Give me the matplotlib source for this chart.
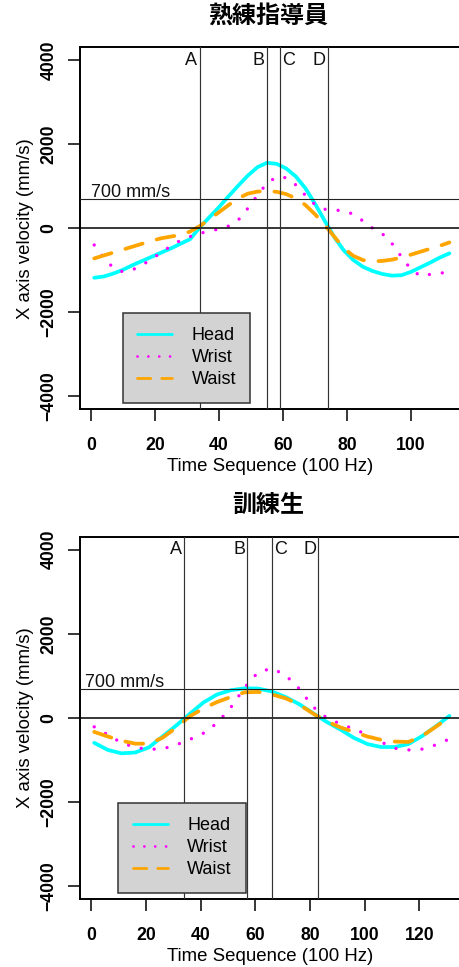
import matplotlib.pyplot as plt

plt.rcParams['font.family'] = ['Liberation Sans', 'DejaVu Sans']

# 熟練指導員 (expert instructor)
x_expert = list(range(1, 113, 3))
head_expert = [-1180, -1150, -1080, -990, -880, -780, -680, -580, -480, -370,
               -260, 20, 260, 500, 760, 1010, 1250, 1450, 1555, 1530,
               1420, 1230, 950, 580, 180, -210, -530, -760, -920, -1020,
               -1090, -1130, -1120, -1040, -930, -820, -700, -600]
wrist_expert = [-400, -700, -950, -1040, -990, -880, -730, -580, -420, -290,
                -200, -125, -70, -20, 50, 190, 470, 780, 1070, 1220,
                1200, 1030, 780, 560, 450, 430, 415, 330, 170, 0,
                -130, -360, -680, -980, -1140, -1100, -1070, -1050]
waist_expert = [-720, -650, -580, -510, -440, -370, -300, -240, -200, -160,
                -80, 50, 210, 380, 550, 710, 820, 870, 880, 865,
                810, 710, 550, 330, 80, -200, -480, -660, -760, -790,
                -780, -750, -700, -630, -560, -490, -420, -340]
events_expert = [34, 55, 59, 74]

# 訓練生 (trainee)
x_trainee = list(range(1, 132, 5))
head_trainee = [-590, -760, -840, -820, -700, -440, -180, 100, 370, 560,
                660, 705, 700, 630, 500, 330, 120, -90, -270, -470,
                -620, -690, -690, -620, -430, -200, 50]
wrist_trainee = [-210, -400, -590, -700, -745, -735, -640, -510, -360, -120,
                 250, 720, 1090, 1180, 1020, 700, 270, 10, -140, -260,
                 -400, -570, -720, -760, -740, -640, -500]
waist_trainee = [-330, -440, -540, -610, -610, -470, -230, 40, 230, 380,
                 500, 610, 620, 560, 470, 320, 110, -80, -220, -330,
                 -440, -520, -560, -570, -430, -210, 20]
events_trainee = [34, 57, 66, 83]

event_labels = ['A', 'B', 'C', 'D']
label_side = ['left', 'left', 'right', 'left']
yticks = [-4000, -2000, 0, 2000, 4000]


def draw_panel(ax, x, head, wrist, waist, events, title, xticks, xlim, text_x, leg_x):
    ax.plot(x, head, color='#00FFFF', lw=2.7, solid_capstyle='round', label='Head', zorder=2)
    ax.plot(x, wrist, color='#FF00FF', lw=2.4, linestyle=(0, (0.01, 3.9)),
            dash_capstyle='round', label='Wrist', zorder=2)
    ax.plot(x, waist, color='#FFA500', lw=2.7, linestyle=(0, (4.8, 3.9)),
            dash_capstyle='round', label='Waist', zorder=2)

    ax.axhline(0, color='black', lw=1.1, zorder=3)
    ax.axhline(700, color='#222222', lw=0.8, zorder=3)
    for ev, lab, side in zip(events, event_labels, label_side):
        ax.axvline(ev, color='#333333', lw=0.85, zorder=3)
        if side == 'left':
            ax.text(ev - 0.8, 4000, lab, ha='right', va='center', fontsize=13, color='#111111')
        else:
            ax.text(ev + 0.8, 4000, lab, ha='left', va='center', fontsize=13, color='#111111')
    ax.text(text_x, 740, '700 mm/s', ha='left', va='baseline', fontsize=13, color='#111111')

    ax.set_xlim(*xlim)
    ax.set_ylim(-4310, 4310)
    ax.set_xticks(xticks)
    ax.set_xticklabels([str(t) for t in xticks], fontweight='bold', fontsize=12.7)
    ax.set_yticks(yticks)
    ax.set_yticklabels([str(t).replace('-', '\u2212') for t in yticks], rotation=90,
                       rotation_mode='anchor', ha='center', va='baseline',
                       fontweight='bold', fontsize=12.7)
    ax.tick_params(axis='both', direction='out', length=8.6, width=1.1)
    ax.tick_params(axis='x', pad=11.0)
    ax.tick_params(axis='y', pad=10.6)
    for sp in ax.spines.values():
        sp.set_linewidth(1.4)

    ax.set_xlabel('Time Sequence (100 Hz)', fontsize=13.4)
    ax.xaxis.set_label_coords(0.495, -0.135)
    ax.set_ylabel('X axis velocity (mm/s)', fontsize=13.4)
    ax.yaxis.set_label_coords(-0.121, 0.5)

    ax.text(0.49, 1.087, title, transform=ax.transAxes, ha='center', va='center',
            fontsize=17.3, fontweight='bold', family=['Noto Sans CJK JP', 'DejaVu Sans'])

    leg = ax.legend(loc='lower left', bbox_to_anchor=(leg_x, 0.018), borderaxespad=0,
                    fontsize=13, handlelength=1.93, handletextpad=1.09, borderpad=0.8,
                    labelspacing=0.28, fancybox=False, framealpha=1,
                    facecolor='#D3D3D3', edgecolor='#333333')
    leg.get_frame().set_linewidth(1.1)
    for line in leg.get_lines():
        line.set_linewidth(2.0)
    leg.set_zorder(5)


fig = plt.figure(figsize=(4.6, 9.67), dpi=100)
ax1 = fig.add_axes([80 / 460, 557.7 / 967, 383.6 / 460, 362.3 / 967])
ax2 = fig.add_axes([80 / 460, 67.7 / 967, 383.6 / 460, 362.6 / 967])

draw_panel(ax1, x_expert, head_expert, wrist_expert, waist_expert, events_expert,
           '熟練指導員', [0, 20, 40, 60, 80, 100], (-3.44, 116.44), 0, 0.111)
draw_panel(ax2, x_trainee, head_trainee, wrist_trainee, waist_trainee, events_trainee,
           '訓練生', [0, 20, 40, 60, 80, 100, 120], (-4.2, 136.2), -2.2, 0.10)

fig.savefig('out.png', dpi=100)
